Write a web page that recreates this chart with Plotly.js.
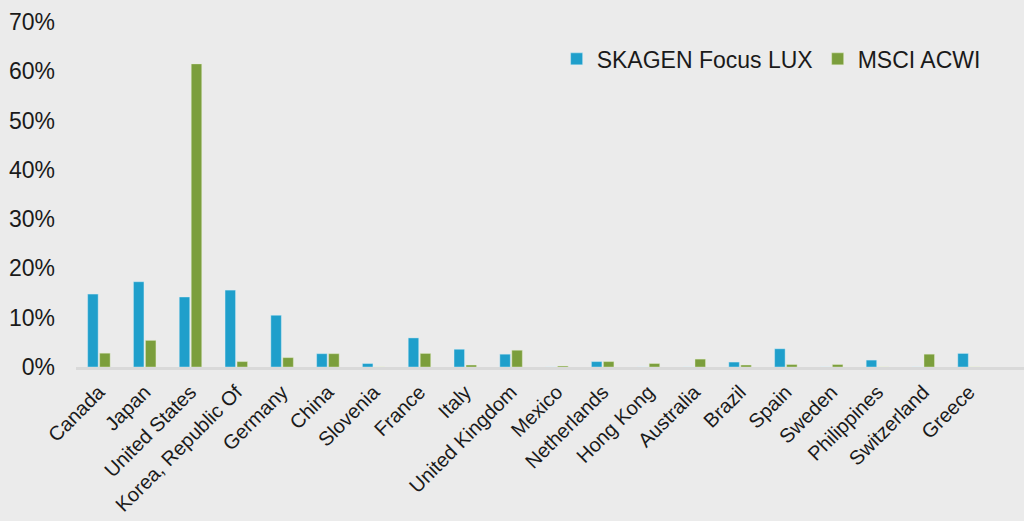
<!DOCTYPE html>
<html>
<head>
<meta charset="utf-8">
<script src="https://cdn.plot.ly/plotly-3.0.1.min.js"></script>
<style>html,body{margin:0;padding:0;background:#ebebeb;}#chart{width:1024px;height:521px;}</style>
</head>
<body>
<div id="chart"></div>
<script>
var countries = ["Canada","Japan","United States","Korea, Republic Of","Germany","China","Slovenia","France","Italy","United Kingdom","Mexico","Netherlands","Hong Kong","Australia","Brazil","Spain","Sweden","Philippines","Switzerland","Greece"];
var skagenFocusLux = [14.8,17.3,14.2,15.6,10.5,2.7,0.7,5.9,3.6,2.6,0,1.1,0,0,1.0,3.7,0,1.4,0,2.75];
var msciAcwi = [2.8,5.4,61.5,1.1,1.9,2.7,0,2.75,0.4,3.4,0.2,1.1,0.7,1.6,0.4,0.5,0.5,0,2.6,0];
var yTicks = [0,10,20,30,40,50,60,70];
var yTickText = yTicks.map(function(v){return v + "%";});

var traces = [
  {type:"bar", name:"SKAGEN Focus LUX", x:countries, y:skagenFocusLux,
   marker:{color:"#1f9fcb", line:{width:0.6, color:"rgba(220,240,250,0.7)"}}},
  {type:"bar", name:"MSCI ACWI", x:countries, y:msciAcwi,
   marker:{color:"#7b9e3c", line:{width:0.6, color:"rgba(230,240,210,0.7)"}}}
];

var layout = {
  width:1024, height:521,
  paper_bgcolor:"#ebebeb", plot_bgcolor:"#ebebeb",
  margin:{l:76, r:0, t:22, b:154},
  barmode:"group", bargap:0.476, bargroupgap:0.125,
  font:{family:"Liberation Sans, Arial, sans-serif", color:"#1a1a1a"},
  showlegend:true,
  legend:{orientation:"h", x:0.507, y:0.893, xanchor:"left", yanchor:"middle",
          font:{size:23, color:"#1a1a1a"}, bgcolor:"rgba(0,0,0,0)", traceorder:"normal"},
  xaxis:{type:"category", range:[-0.5,20.2], showgrid:false, zeroline:false,
         showline:true, linecolor:"#d9d9d9", linewidth:2.5,
         tickangle:-45, tickfont:{size:20, color:"#1a1a1a"}, ticks:"", ticklabelstandoff:3},
  yaxis:{range:[0,70], tickvals:yTicks, ticktext:yTickText, showgrid:false,
         zeroline:false, showline:false, ticks:"", ticklabelstandoff:20,
         tickfont:{size:23, color:"#1a1a1a"}}
};

Plotly.newPlot("chart", traces, layout, {displayModeBar:false, staticPlot:true});
</script>
</body>
</html>
